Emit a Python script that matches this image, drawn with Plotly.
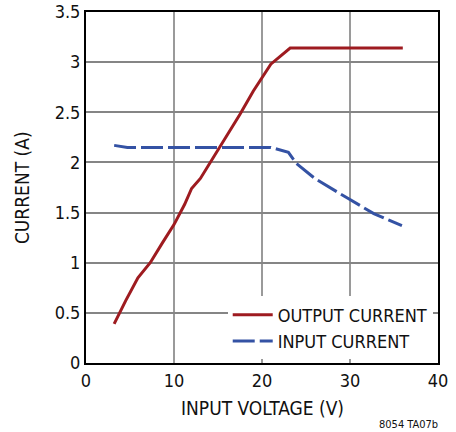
import plotly.graph_objects as go

# Data
output_v = [3.2, 4.5, 5.9, 7.3, 8.7, 10.0, 11.2, 12.0, 13.0, 15.2, 16.3, 17.5, 19.0, 21.0, 23.2, 36.0]
output_i = [0.39, 0.62, 0.85, 1.0, 1.2, 1.38, 1.58, 1.74, 1.84, 2.15, 2.30, 2.48, 2.71, 2.98, 3.14, 3.14]

input_v = [3.2, 4.7, 21.0, 23.0, 23.9, 26.0, 29.8, 32.7, 35.9]
input_i = [2.17, 2.15, 2.15, 2.10, 1.99, 1.84, 1.64, 1.49, 1.37]

x_ticks = [0, 10, 20, 30, 40]
y_ticks = [0, 0.5, 1, 1.5, 2, 2.5, 3, 3.5]
y_tick_text = ["0", "0.5", "1", "1.5", "2", "2.5", "3", "3.5"]

FONT = "Liberation Sans Narrow, DejaVu Sans Condensed, Arial Narrow, sans-serif"

fig = go.Figure()
fig.add_trace(go.Scatter(x=output_v, y=output_i, mode="lines", name="OUTPUT CURRENT",
                         line=dict(color="#9E1B20", width=3)))
fig.add_trace(go.Scatter(x=input_v, y=input_i, mode="lines", name="INPUT CURRENT",
                         line=dict(color="#3452A4", width=3, dash="22px,5px")))

fig.update_layout(
    width=456, height=432,
    margin=dict(l=86, r=18, t=12, b=69, autoexpand=False),
    paper_bgcolor="white", plot_bgcolor="white",
    font=dict(family=FONT, size=18, color="#111111"),
    showlegend=True,
    legend=dict(x=0.985, xanchor="right", y=0.01, yanchor="bottom",
                bgcolor="white", borderwidth=0, font=dict(size=18, family=FONT),
                itemwidth=40, tracegroupgap=0),
    xaxis=dict(range=[0, 40], tickvals=x_ticks, showgrid=True, gridcolor="#9a9a9a", gridwidth=1.5,
               zeroline=False, showline=True, linecolor="black", linewidth=2, mirror=True,
               ticks="", tickfont=dict(size=18), automargin=False, ticklabeloverflow="allow"),
    yaxis=dict(range=[0, 3.5], tickvals=y_ticks, ticktext=y_tick_text, showgrid=True,
               gridcolor="#858585", gridwidth=1.5, zeroline=False, showline=True,
               linecolor="black", linewidth=2, mirror=True, ticks="", tickfont=dict(size=18),
               automargin=False, ticklabeloverflow="allow"),
)

# Axis titles placed as annotations
fig.add_annotation(text="INPUT VOLTAGE (V)", xref="paper", yref="paper", x=0.5, y=-0.128,
                   xanchor="center", yanchor="middle", showarrow=False,
                   font=dict(size=19, family=FONT))
fig.add_annotation(text="CURRENT (A)", xref="paper", yref="paper", x=-0.183, y=0.5,
                   xanchor="center", yanchor="middle", showarrow=False, textangle=-90,
                   font=dict(size=19, family=FONT))
fig.add_annotation(text="8054 TA07b", xref="paper", yref="paper", x=1.006, y=-0.174,
                   xanchor="right", yanchor="middle", showarrow=False,
                   font=dict(size=11, family=FONT))

# Remove the default 8px page margin so the figure fills the window exactly
fig.write_html("out.html", config={"displayModeBar": False},
               post_script="document.body.style.margin='0';")
